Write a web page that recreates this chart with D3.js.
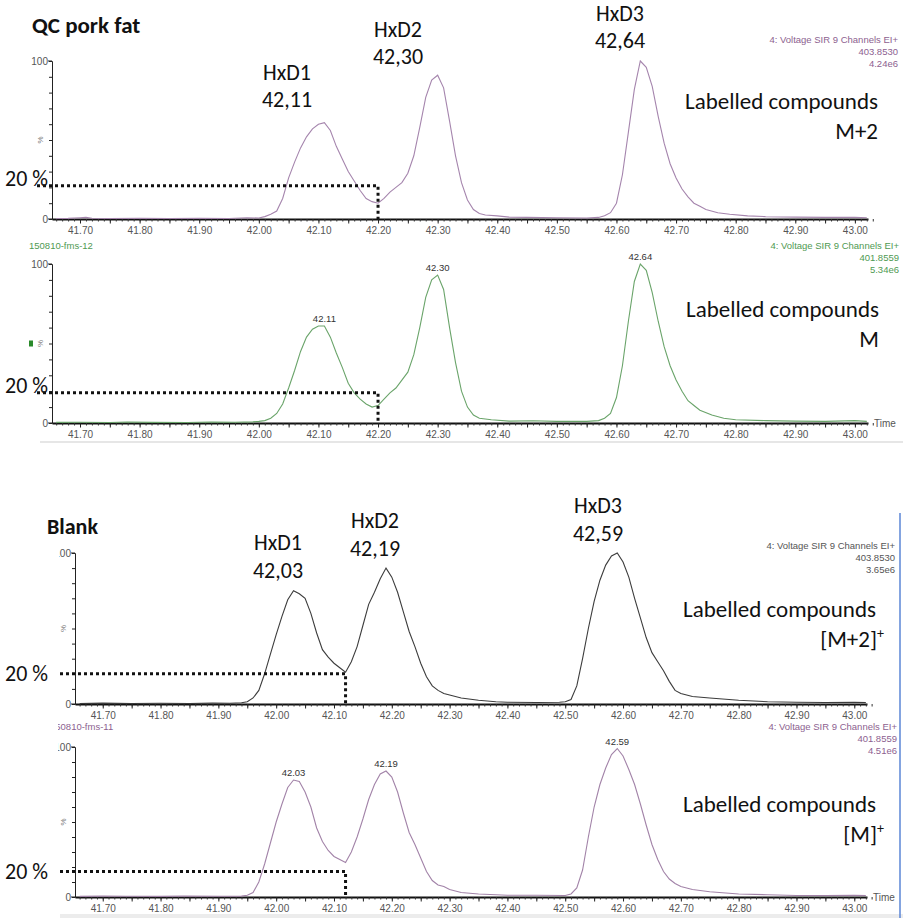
<!DOCTYPE html>
<html>
<head>
<meta charset="utf-8">
<script src="https://cdn.jsdelivr.net/npm/d3@7"></script>
<style>
body{margin:0;background:#fff}
svg{display:block}
.small{font-family:"Liberation Sans",Arial,sans-serif}
.big{font-family:Carlito,Lato,"Open Sans",sans-serif;fill:#111}
</style>
</head>
<body>
<svg id="fig" width="903" height="918"></svg>
<script>
///-------------------- data (time in min, intensity in %)
var qcM2 = [[41.66,0.3],[41.68,0.4],[41.70,0.8],[41.71,1.0],[41.72,0.5],[41.75,0.3],[41.80,0.4],[41.85,0.3],[41.90,0.4],[41.95,0.3],[41.98,0.8],[42.00,0.6],[42.01,1.5],[42.02,3],[42.03,5],[42.04,13],[42.05,26],[42.06,36],[42.07,45],[42.08,52],[42.09,57],[42.10,60],[42.11,61],[42.12,56],[42.13,46],[42.14,38],[42.15,30],[42.16,24],[42.17,18],[42.18,13],[42.19,11],[42.20,10],[42.21,13],[42.22,17],[42.23,20],[42.24,23],[42.25,29],[42.26,40],[42.27,58],[42.28,77],[42.29,88],[42.30,91],[42.31,83],[42.32,62],[42.33,40],[42.34,23],[42.35,12],[42.36,6],[42.37,3.5],[42.38,2.5],[42.40,2],[42.42,1.2],[42.45,1],[42.50,0.8],[42.55,0.6],[42.57,1],[42.58,2],[42.59,4],[42.60,10],[42.61,28],[42.62,55],[42.63,82],[42.64,100],[42.65,96],[42.66,84],[42.67,65],[42.68,48],[42.69,35],[42.70,26],[42.71,19],[42.72,14],[42.73,10],[42.74,8],[42.75,6],[42.77,4],[42.79,3],[42.82,2],[42.85,1.5],[42.90,1.2],[42.95,1],[43.00,1],[43.02,0.8]];

var qcM = [[41.66,0.4],[41.70,0.5],[41.75,0.3],[41.78,0.6],[41.82,0.4],[41.88,0.3],[41.92,0.6],[41.96,0.5],[41.99,0.7],[42.00,1],[42.01,1.5],[42.02,3],[42.03,6],[42.04,12],[42.05,22],[42.06,33],[42.07,45],[42.08,54],[42.09,59],[42.10,61],[42.11,61],[42.12,54],[42.13,44],[42.14,35],[42.15,25],[42.16,19],[42.17,15],[42.18,12],[42.19,10],[42.20,11],[42.21,15],[42.22,19],[42.23,22],[42.24,27],[42.25,32],[42.26,43],[42.27,60],[42.28,79],[42.29,90],[42.30,93],[42.31,84],[42.32,60],[42.33,38],[42.34,20],[42.35,10],[42.36,5],[42.37,3],[42.39,2],[42.42,1.2],[42.46,1.4],[42.50,1],[42.55,1],[42.57,1.5],[42.58,3],[42.59,6],[42.60,16],[42.61,36],[42.62,64],[42.63,89],[42.64,100],[42.65,96],[42.66,82],[42.67,64],[42.68,48],[42.69,36],[42.70,27],[42.71,20],[42.72,14],[42.73,11],[42.74,8],[42.76,5],[42.78,3],[42.80,2],[42.85,1.5],[42.90,1.2],[42.95,1],[43.00,1.5],[43.02,1]];

var blankM2 = [[41.66,0.3],[41.70,0.6],[41.75,0.3],[41.80,0.5],[41.85,0.3],[41.89,0.6],[41.92,0.5],[41.94,0.8],[41.95,1.5],[41.96,4],[41.97,9],[41.98,20],[41.99,33],[42.00,46],[42.01,58],[42.02,69],[42.03,75],[42.04,73],[42.05,70],[42.06,60],[42.07,47],[42.08,36],[42.09,31],[42.10,27],[42.11,24],[42.12,21],[42.13,28],[42.14,38],[42.15,52],[42.16,66],[42.17,74],[42.18,83],[42.19,90],[42.20,84],[42.21,74],[42.22,61],[42.23,48],[42.24,38],[42.25,27],[42.26,18],[42.27,12],[42.28,9],[42.29,7],[42.30,6],[42.32,4],[42.35,2.5],[42.38,1.5],[42.40,1.2],[42.45,1],[42.49,1.2],[42.50,1.5],[42.51,3],[42.52,12],[42.53,30],[42.54,50],[42.55,68],[42.56,82],[42.57,92],[42.58,98],[42.59,100],[42.60,94],[42.61,84],[42.62,70],[42.63,57],[42.64,44],[42.65,34],[42.66,28],[42.67,22],[42.68,15],[42.69,9],[42.70,7],[42.72,5],[42.75,4],[42.80,2.5],[42.85,1.5],[42.90,1.2],[42.95,1],[43.00,1.2],[43.02,1]];

var blankM = [[41.66,0.4],[41.70,0.6],[41.74,0.5],[41.80,0.4],[41.84,0.6],[41.90,0.5],[41.94,0.6],[41.95,1.2],[41.96,3],[41.97,10],[41.98,22],[41.99,36],[42.00,50],[42.01,62],[42.02,73],[42.03,78],[42.04,77],[42.05,70],[42.06,60],[42.07,46],[42.08,37],[42.09,31],[42.10,27],[42.11,25],[42.12,23],[42.13,30],[42.14,40],[42.15,52],[42.16,65],[42.17,75],[42.18,82],[42.19,84],[42.20,80],[42.21,70],[42.22,56],[42.23,43],[42.24,35],[42.25,26],[42.26,17],[42.27,11],[42.28,8],[42.29,7],[42.30,5],[42.32,3],[42.35,2],[42.40,1.2],[42.45,1.2],[42.50,1],[42.51,2],[42.52,6],[42.53,18],[42.54,40],[42.55,60],[42.56,75],[42.57,86],[42.58,95],[42.59,99],[42.60,94],[42.61,85],[42.62,75],[42.63,62],[42.64,48],[42.65,35],[42.66,25],[42.67,17],[42.68,12],[42.69,9],[42.70,7],[42.72,5],[42.75,3.5],[42.80,2],[42.85,1.5],[42.90,1],[42.95,1],[43.00,1.2],[43.02,1]];

var majorTicks = [41.70,41.80,41.90,42.00,42.10,42.20,42.30,42.40,42.50,42.60,42.70,42.80,42.90,43.00];
var qcPeaks = [42.11,42.30,42.64];
var blankPeaks = [42.03,42.19,42.59];
var qcPeakNames = ["HxD1","HxD2","HxD3"];
var qcPeakTexts = ["42,11","42,30","42,64"];
var blankPeakTexts = ["42,03","42,19","42,59"];
var headerM2qc = ["4: Voltage SIR 9 Channels EI+","403.8530","4.24e6"];
var headerMqc = ["4: Voltage SIR 9 Channels EI+","401.8559","5.34e6"];
var headerM2blank = ["4: Voltage SIR 9 Channels EI+","403.8530","3.65e6"];
var headerMblank = ["4: Voltage SIR 9 Channels EI+","401.8559","4.51e6"];
var levels = [21,19,20,17];          // dotted "20 %" level per panel
var cutTimes = [42.20,42.20,42.12,42.12];

///-------------------- layout
var svg = d3.select("#fig");
var xTop = d3.scaleLinear().domain([41.653,43.022]).range([52,868]);
var xBot = d3.scaleLinear().domain([41.652,43.022]).range([75,867]);

var panels = [
	{data:qcM2, x:xTop, y0:219, y1:61, col:"#a585ad", hcol:"#8d5f90", header:headerM2qc, hx:898, hy:43, file:null, time:false, peaks:null,
	 lab:["Labelled compounds","M+2"], lx:878, ly:109, dotX:37, labY:0},
	{data:qcM, x:xTop, y0:423, y1:264, col:"#6aa46a", hcol:"#4f9a52", header:headerMqc, hx:899, hy:249, file:"150810-fms-12", fx:29, time:true, peaks:qcPeaks,
	 lab:["Labelled compounds","M"], lx:879, ly:317, dotX:37, labY:0},
	{data:blankM2, x:xBot, y0:704, y1:553, col:"#3c3c3c", hcol:"#555", header:headerM2blank, hx:895, hy:549, file:null, time:false, peaks:null,
	 lab:["Labelled compounds","[M+2]"], lx:876, ly:617, dotX:60, labY:7, sup:true},
	{data:blankM, x:xBot, y0:897, y1:747, col:"#a283a8", hcol:"#8d5f90", header:headerMblank, hx:897, hy:730, file:"150810-fms-11", fx:50, time:true, peaks:blankPeaks,
	 lab:["Labelled compounds","[M]"], lx:876, ly:812, dotX:60, labY:7, sup:true}
];

panels.forEach(function(p,i){ draw_panel(p,i); });
draw_titles();

function draw_panel(p,i){
	var x = p.x;
	var y = d3.scaleLinear().domain([0,100]).range([p.y0,p.y1]);
	var g = svg.append("g").attr("class","small");
	var xr = x.range();

	// y axis
	g.append("g")
		.attr("transform","translate("+xr[0]+",0)")
		.call(d3.axisLeft(y).tickValues(d3.range(0,101,10)).tickSize(3).tickFormat(""))
		.call(function(a){ a.selectAll("line,path").attr("stroke","#222"); });
	g.selectAll(".ylab").data([0,100]).enter().append("text")
		.attr("x",xr[0]-4).attr("y",function(d){return y(d)+3.5;})
		.attr("text-anchor","end").attr("font-size",10).attr("fill","#555")
		.text(function(d){return d;});
	g.append("line").attr("x1",xr[0]-4).attr("x2",xr[0]).attr("y1",y(100)).attr("y2",y(100)).attr("stroke","#222");
	g.append("line").attr("x1",xr[0]-4).attr("x2",xr[0]).attr("y1",y(0)).attr("y2",y(0)).attr("stroke","#222");
	g.append("text").attr("transform","translate("+(xr[0]-9)+","+y(50)+") rotate(-90)")
		.attr("text-anchor","middle").attr("font-size",8).attr("fill","#777").text("%");
	if(i==1){
		g.append("rect").attr("x",xr[0]-23).attr("y",y(50)-3).attr("width",4).attr("height",6).attr("fill","#2a8a2a");
	}

	// x axis : minor every 0.01, major every 0.10
	var minor = d3.range(0,138).map(function(k){return +(41.66+k*0.01).toFixed(2);});
	g.append("g")
		.attr("transform","translate(0,"+p.y0+")")
		.call(d3.axisBottom(x).tickValues(minor).tickSize(2.5).tickFormat("").tickSizeOuter(0))
		.call(function(a){ a.select("path").attr("stroke","#111").attr("stroke-width",1.8); a.selectAll("line").attr("stroke","#333"); });
	g.append("g")
		.attr("transform","translate(0,"+p.y0+")")
		.call(d3.axisBottom(x).tickValues(majorTicks.concat([41.75,41.85,41.95,42.05,42.15,42.25,42.35,42.45,42.55,42.65,42.75,42.85,42.95]))
			.tickSize(4.5).tickSizeOuter(0).tickPadding(3)
			.tickFormat(function(d){ return majorTicks.indexOf(d)>=0 ? d3.format(".2f")(d) : ""; }))
		.call(function(a){
			a.select("path").remove();
			a.selectAll("line").attr("stroke","#222");
			a.selectAll("text").attr("font-size",10).attr("fill","#555").attr("font-family","Liberation Sans, Arial, sans-serif");
		});
	if(p.time){
		g.append("text").attr("x",xr[1]+6).attr("y",p.y0+4).attr("font-size",10).attr("fill","#555").text("Time");
	}

	// trace
	var line = d3.line().x(function(d){return x(d[0]);}).y(function(d){return y(d[1]);});
	g.append("path").datum(p.data).attr("d",line)
		.attr("fill","none").attr("stroke",p.col).attr("stroke-width",1.1);

	// peak apex labels
	if(p.peaks){
		g.selectAll(".pk").data(p.peaks).enter().append("text")
			.attr("x",function(d){return x(d);})
			.attr("y",function(d){
				var pt = p.data.filter(function(e){return Math.abs(e[0]-d)<0.001;})[0];
				return y(pt[1])-4;
			})
			.attr("text-anchor","middle").attr("font-size",9.5).attr("fill","#333")
			.text(function(d){return d3.format(".2f")(d);});
	}

	// header
	g.selectAll(".hd").data(p.header).enter().append("text")
		.attr("x",p.hx).attr("y",function(d,k){return p.hy+k*12;})
		.attr("text-anchor","end").attr("font-size",9.5).attr("fill",p.hcol)
		.text(function(d){return d;});
	if(p.file){
		g.append("text").attr("x",p.fx).attr("y",p.hy).attr("font-size",9.5).attr("fill",p.hcol).text(p.file);
	}

	// labelled compounds
	var t = svg.append("g").attr("class","big");
	t.append("text").attr("x",p.lx).attr("y",p.ly).attr("text-anchor","end").attr("font-size",23).text(p.lab[0]);
	var t2 = t.append("text").attr("x",p.sup ? p.lx+8 : p.lx).attr("y",p.ly+30).attr("text-anchor","end").attr("font-size",23);
	t2.append("tspan").text(p.lab[1]);
	if(p.sup){
		t2.append("tspan").attr("dy",-9).attr("font-size",14).text("+");
	}

	// dotted 20 % guide
	var yl = y(levels[i]);
	var xc = x(cutTimes[i]);
	svg.append("path")
		.attr("d","M"+p.dotX+","+yl+"H"+xc+"V"+p.y0)
		.attr("fill","none").attr("stroke","#111").attr("stroke-width",3).attr("stroke-dasharray","3,3");
	svg.append("text").attr("class","big").attr("x",5).attr("y",yl+p.labY).attr("font-size",22).text("20 %");
}

function draw_titles(){
	// edges of the pasted screenshots (cut "100" and file name in the lower half)
	svg.append("rect").attr("x",0).attr("y",540).attr("width",59).attr("height",22).attr("fill","#fff");
	svg.append("rect").attr("x",0).attr("y",718).attr("width",58).attr("height",42).attr("fill","#fff");
	svg.append("rect").attr("x",40).attr("y",441).attr("width",863).attr("height",2).attr("fill","#e6e6e6");
	svg.append("rect").attr("x",60).attr("y",914).attr("width",843).attr("height",4).attr("fill","#ececec");
	svg.append("line").attr("x1",900).attr("x2",900).attr("y1",513).attr("y2",918).attr("stroke","#5b86d6").attr("stroke-width",1.5);

	var t = svg.append("g").attr("class","big");
	t.append("text").attr("x",32).attr("y",33).attr("font-size",23).attr("font-weight",700).text("QC pork fat");
	t.append("text").attr("x",47).attr("y",534).attr("font-size",22).attr("font-weight",700).text("Blank");

	var qcPos = [[287,80],[398,37],[620,21]];
	var blankPos = [[278,550],[375,528],[598,513]];
	qcPos.forEach(function(d,k){
		t.append("text").attr("x",d[0]).attr("y",d[1]).attr("text-anchor","middle").attr("font-size",22).text(qcPeakNames[k]);
		t.append("text").attr("x",d[0]).attr("y",d[1]+27).attr("text-anchor","middle").attr("font-size",22).text(qcPeakTexts[k]);
	});
	blankPos.forEach(function(d,k){
		t.append("text").attr("x",d[0]).attr("y",d[1]).attr("text-anchor","middle").attr("font-size",22).text(qcPeakNames[k]);
		t.append("text").attr("x",d[0]).attr("y",d[1]+28).attr("text-anchor","middle").attr("font-size",22).text(blankPeakTexts[k]);
	});
}
</script>
</body>
</html>
